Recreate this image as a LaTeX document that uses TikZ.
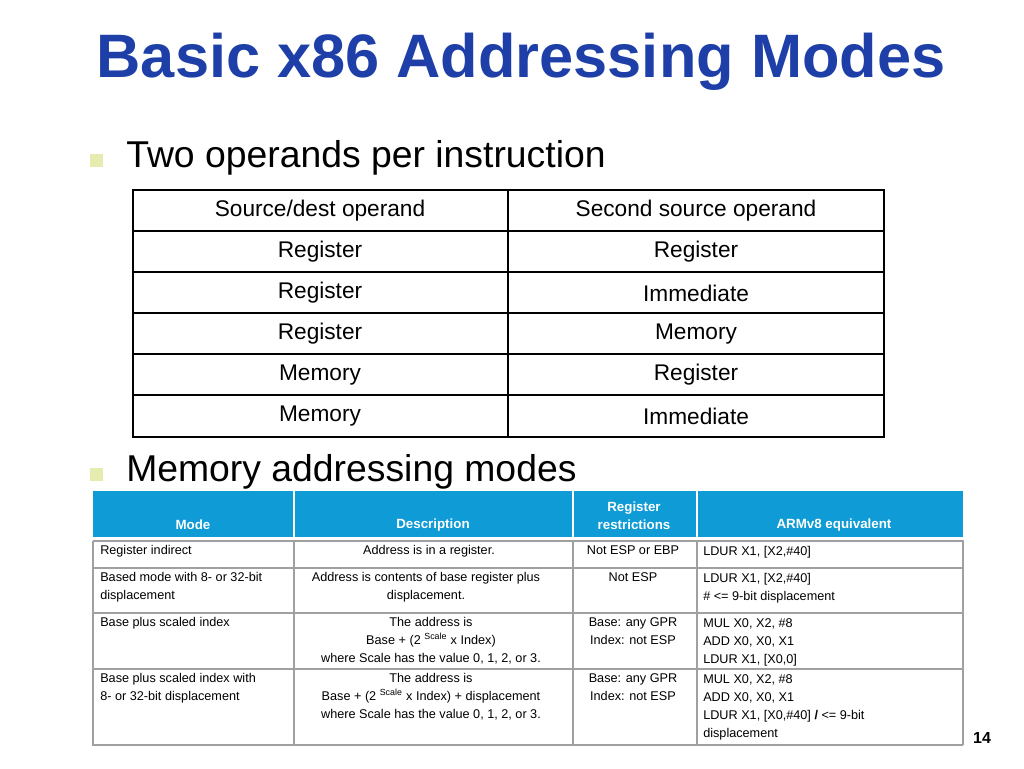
\documentclass[tikz,border=0pt]{standalone}
\usepackage{fontspec}
\setmainfont{Liberation Sans}
\definecolor{ttl}{HTML}{1E3FA8}
\definecolor{hdr}{HTML}{0E9BD6}
\definecolor{bul}{HTML}{E6EBB0}
\definecolor{gl}{HTML}{A0A0A0}
\begin{document}
\begin{tikzpicture}[x=0.75pt,y=-0.75pt,
  tt/.style={font=\fontsize{17}{20}\selectfont,inner sep=0pt},
  bt/.style={font=\fontsize{9.5}{13.5}\selectfont,inner sep=0pt,align=center},
  lt/.style={font=\fontsize{9.5}{13.5}\selectfont,inner sep=0pt,align=left,anchor=north west},
  ht/.style={font=\fontsize{10}{13.5}\selectfont\bfseries,text=white,inner sep=0pt,align=center},
  bl/.style={fill=bul,minimum size=9.75pt,inner sep=0pt},
  bx/.style={font=\fontsize{28}{32}\selectfont,inner sep=0pt,anchor=west}]
\useasboundingbox (0,0) rectangle (1024,768);
\node[font=\fontsize{46}{50}\selectfont\bfseries,text=ttl,inner sep=0pt] (title) at (521,62) {Basic x86 Addressing Modes};
\node[bl] (b1) at (96,160) {};
\node[bx] (t1) at (126,158) {Two operands per instruction};
% top table
\foreach \y in {231,272,313,354,395} \draw[line width=0.9pt] (133,\y) -- (884,\y);
\draw[line width=0.9pt] (508,190) -- (508,437);
\draw[line width=2pt] (133,190) rectangle (884,437);
\foreach \a/\b/\y [count=\i] in {{Source/dest operand}/{Second source operand}/211,Register/Register/252,Register/Immediate/293,Register/Memory/334,Memory/Register/375,Memory/Immediate/416}{
  \node[tt] (l\i) at (320,\y) {\a};
  \node[tt] (r\i) at (696,\y) {\b};
}
\node[bl] (b2) at (96,474) {};
\node[bx] (t2) at (126,472) {Memory addressing modes};
% bottom table
\fill[hdr] (93,491) rectangle (963,537);
\foreach \x in {294,573,697} \draw[white,line width=1.2pt] (\x,491) -- (\x,537);
\draw[gl,line width=0.8pt] (93,541) -- (963,541) -- (963,745);
\draw[gl,line width=0.8pt] (93,541) -- (93,745) -- (963,745);
\foreach \y in {568,613,669} \draw[gl,line width=0.8pt] (93,\y) -- (963,\y);
\foreach \x in {294,573,697} \draw[gl,line width=0.8pt] (\x,541) -- (\x,745);
\node[ht] (h1) at (193,525) {Mode};
\node[ht] (h2) at (433,525) {Description};
\node[ht] (h3) at (634,516) {Register\\restrictions};
\node[ht] (h4) at (834,525) {ARMv8 equivalent};
\def\sc{\textsuperscript{Scale}}
\node[lt] (m1) at (100,545) {Register indirect};
\node[lt] (m2) at (100,572) {Based mode with 8- or 32-bit\\displacement};
\node[lt] (m3) at (100,617) {Base plus scaled index};
\node[lt] (m4) at (100,673) {Base plus scaled index with\\8- or 32-bit displacement};
\node[bt,anchor=north] (d1) at (429,545) {Address is in a register.};
\node[bt,anchor=north] (d2) at (426,572) {Address is contents of base register plus\\displacement.};
\node[bt,anchor=north] (d3) at (431,617) {The address is\\Base + (2 \sc{} x Index)\\where Scale has the value 0, 1, 2, or 3.};
\node[bt,anchor=north] (d4) at (431,673) {The address is\\Base + (2 \sc{} x Index) + displacement\\where Scale has the value 0, 1, 2, or 3.};
\node[bt,anchor=north] (r1) at (633,545) {Not ESP or EBP};
\node[bt,anchor=north] (r2) at (633,572) {Not ESP};
\node[bt,anchor=north] (r3) at (633,617) {Base: any GPR\\Index: not ESP};
\node[bt,anchor=north] (r4) at (633,673) {Base: any GPR\\Index: not ESP};
\node[lt] (a1) at (703,546) {LDUR X1, [X2,\#40]};
\node[lt] (a2) at (703,573) {LDUR X1, [X2,\#40]\\\# <= 9-bit displacement};
\node[lt] (a3) at (703,618) {MUL X0, X2, \#8\\ADD X0, X0, X1\\LDUR X1, [X0,0]};
\node[lt] (a4) at (703,674) {MUL X0, X2, \#8\\ADD X0, X0, X1\\LDUR X1, [X0,\#40] \textbf{/} <= 9-bit\\displacement};
\node[font=\fontsize{12}{14}\selectfont\bfseries,inner sep=0pt] (pg) at (982,738) {14};
\end{tikzpicture}
\end{document}
